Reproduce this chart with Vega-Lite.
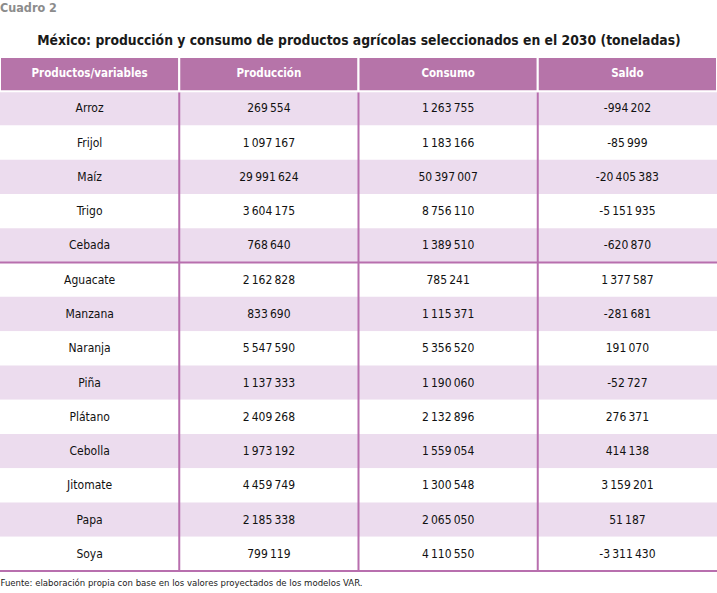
{
  "$schema": "https://vega.github.io/schema/vega-lite/v6.json",
  "width": 717,
  "height": 514,
  "autosize": {"type": "none"},
  "padding": {"top": 57, "left": 0, "right": 0, "bottom": 22},
  "background": "white",
  "config": {
    "view": {"stroke": null},
    "font": "DejaVu Sans Condensed, Roboto",
    "locale": {"number": {"decimal": ",", "thousands": "\u2009", "grouping": [3], "currency": ["$", ""], "minus": "-"}}
  },
  "title": {
    "text": "Cuadro 2",
    "anchor": "start",
    "frame": "group",
    "fontSize": 12.5,
    "fontWeight": "bold",
    "color": "#8c8c8c",
    "font": "DejaVu Sans Condensed, Roboto",
    "offset": 19
  },
  "datasets": {
    "filas": [
      {"Producto": "Arroz", "Producción": 269554, "Consumo": 1263755, "Saldo": -994202},
      {"Producto": "Frijol", "Producción": 1097167, "Consumo": 1183166, "Saldo": -85999},
      {"Producto": "Maíz", "Producción": 29991624, "Consumo": 50397007, "Saldo": -20405383},
      {"Producto": "Trigo", "Producción": 3604175, "Consumo": 8756110, "Saldo": -5151935},
      {"Producto": "Cebada", "Producción": 768640, "Consumo": 1389510, "Saldo": -620870},
      {"Producto": "Aguacate", "Producción": 2162828, "Consumo": 785241, "Saldo": 1377587},
      {"Producto": "Manzana", "Producción": 833690, "Consumo": 1115371, "Saldo": -281681},
      {"Producto": "Naranja", "Producción": 5547590, "Consumo": 5356520, "Saldo": 191070},
      {"Producto": "Piña", "Producción": 1137333, "Consumo": 1190060, "Saldo": -52727},
      {"Producto": "Plátano", "Producción": 2409268, "Consumo": 2132896, "Saldo": 276371},
      {"Producto": "Cebolla", "Producción": 1973192, "Consumo": 1559054, "Saldo": 414138},
      {"Producto": "Jitomate", "Producción": 4459749, "Consumo": 1300548, "Saldo": 3159201},
      {"Producto": "Papa", "Producción": 2185338, "Consumo": 2065050, "Saldo": 51187},
      {"Producto": "Soya", "Producción": 799119, "Consumo": 4110550, "Saldo": -3311430}
    ],
    "encabezado": [
      {"col": "Productos/variables"},
      {"col": "Producción"},
      {"col": "Consumo"},
      {"col": "Saldo"}
    ]
  },
  "resolve": {"scale": {"x": "shared", "y": "shared"}},
  "layer": [
    {
      "data": {"name": "filas"},
      "transform": [{"window": [{"op": "row_number", "as": "n"}]}],
      "mark": {"type": "rect"},
      "encoding": {
        "y": {"field": "Producto", "type": "nominal", "sort": null,
              "scale": {"domain": ["Productos/variables", "Arroz", "Frijol", "Maíz", "Trigo", "Cebada", "Aguacate", "Manzana", "Naranja", "Piña", "Plátano", "Cebolla", "Jitomate", "Papa", "Soya"], "paddingInner": 0, "paddingOuter": 0},
              "axis": null},
        "x": {"value": 0},
        "x2": {"value": "width"},
        "fill": {"condition": {"test": "datum.n % 2 == 1", "value": "#ecdcee"}, "value": "#ffffff"}
      }
    },
    {
      "data": {"name": "encabezado"},
      "transform": [{"filter": "datum.col != 'Productos/variables'"}],
      "mark": {"type": "rule", "color": "#b86fae", "strokeWidth": 2},
      "encoding": {
        "x": {"field": "col", "type": "nominal", "sort": null, "bandPosition": 0,
              "scale": {"domain": ["Productos/variables", "Producción", "Consumo", "Saldo"], "paddingInner": 0, "paddingOuter": 0},
              "axis": {"orient": "top", "title": "México: producción y consumo de productos agrícolas seleccionados en el 2030 (toneladas)",
                       "labels": false, "ticks": false, "domain": false, "grid": false,
                       "titleFontSize": 13.8, "titleFontWeight": "bold", "titleColor": "#1a1a1a", "titlePadding": 10, "titleFont": "DejaVu Sans Condensed, Roboto"}}
      }
    },
    {
      "data": {"name": "encabezado"},
      "mark": {"type": "rect", "fill": "#b674a9", "stroke": "#ffffff", "strokeWidth": 2},
      "encoding": {
        "x": {"field": "col", "type": "nominal", "sort": null,
              "axis": {"orient": "bottom", "title": "Fuente: elaboración propia con base en los valores proyectados de los modelos VAR.",
                       "labels": false, "ticks": false, "domain": false, "grid": false, "titleAnchor": "start",
                       "titleFontSize": 9.5, "titleFontWeight": "normal", "titleColor": "#1a1a1a", "titlePadding": 6, "titleFont": "DejaVu Sans Condensed, Roboto"}},
        "y": {"datum": "Productos/variables", "type": "nominal", "axis": null}
      }
    },
    {
      "data": {"name": "filas"},
      "transform": [{"filter": "datum.Producto == 'Cebada' || datum.Producto == 'Soya'"}],
      "mark": {"type": "rule", "color": "#b86fae", "strokeWidth": 2},
      "encoding": {
        "y": {"field": "Producto", "type": "nominal", "bandPosition": 1, "axis": null},
        "x": {"value": 0},
        "x2": {"value": "width"}
      }
    },
    {
      "data": {"name": "encabezado"},
      "mark": {"type": "text", "color": "#ffffff", "fontWeight": "bold", "fontSize": 11.5},
      "encoding": {
        "x": {"field": "col", "type": "nominal", "sort": null, "axis": null},
        "y": {"datum": "Productos/variables", "type": "nominal", "axis": null},
        "text": {"field": "col"}
      }
    },
    {
      "data": {"name": "filas"},
      "mark": {"type": "text", "color": "#111111", "fontSize": 12},
      "encoding": {
        "x": {"datum": "Productos/variables", "type": "nominal", "axis": null},
        "y": {"field": "Producto", "type": "nominal", "axis": null},
        "text": {"field": "Producto"}
      }
    },
    {
      "data": {"name": "filas"},
      "transform": [{"fold": ["Producción", "Consumo", "Saldo"], "as": ["variable", "valor"]}],
      "mark": {"type": "text", "color": "#111111", "fontSize": 12},
      "encoding": {
        "x": {"field": "variable", "type": "nominal", "axis": null},
        "y": {"field": "Producto", "type": "nominal", "axis": null},
        "text": {"field": "valor", "type": "quantitative", "format": ",d"}
      }
    }
  ]
}
